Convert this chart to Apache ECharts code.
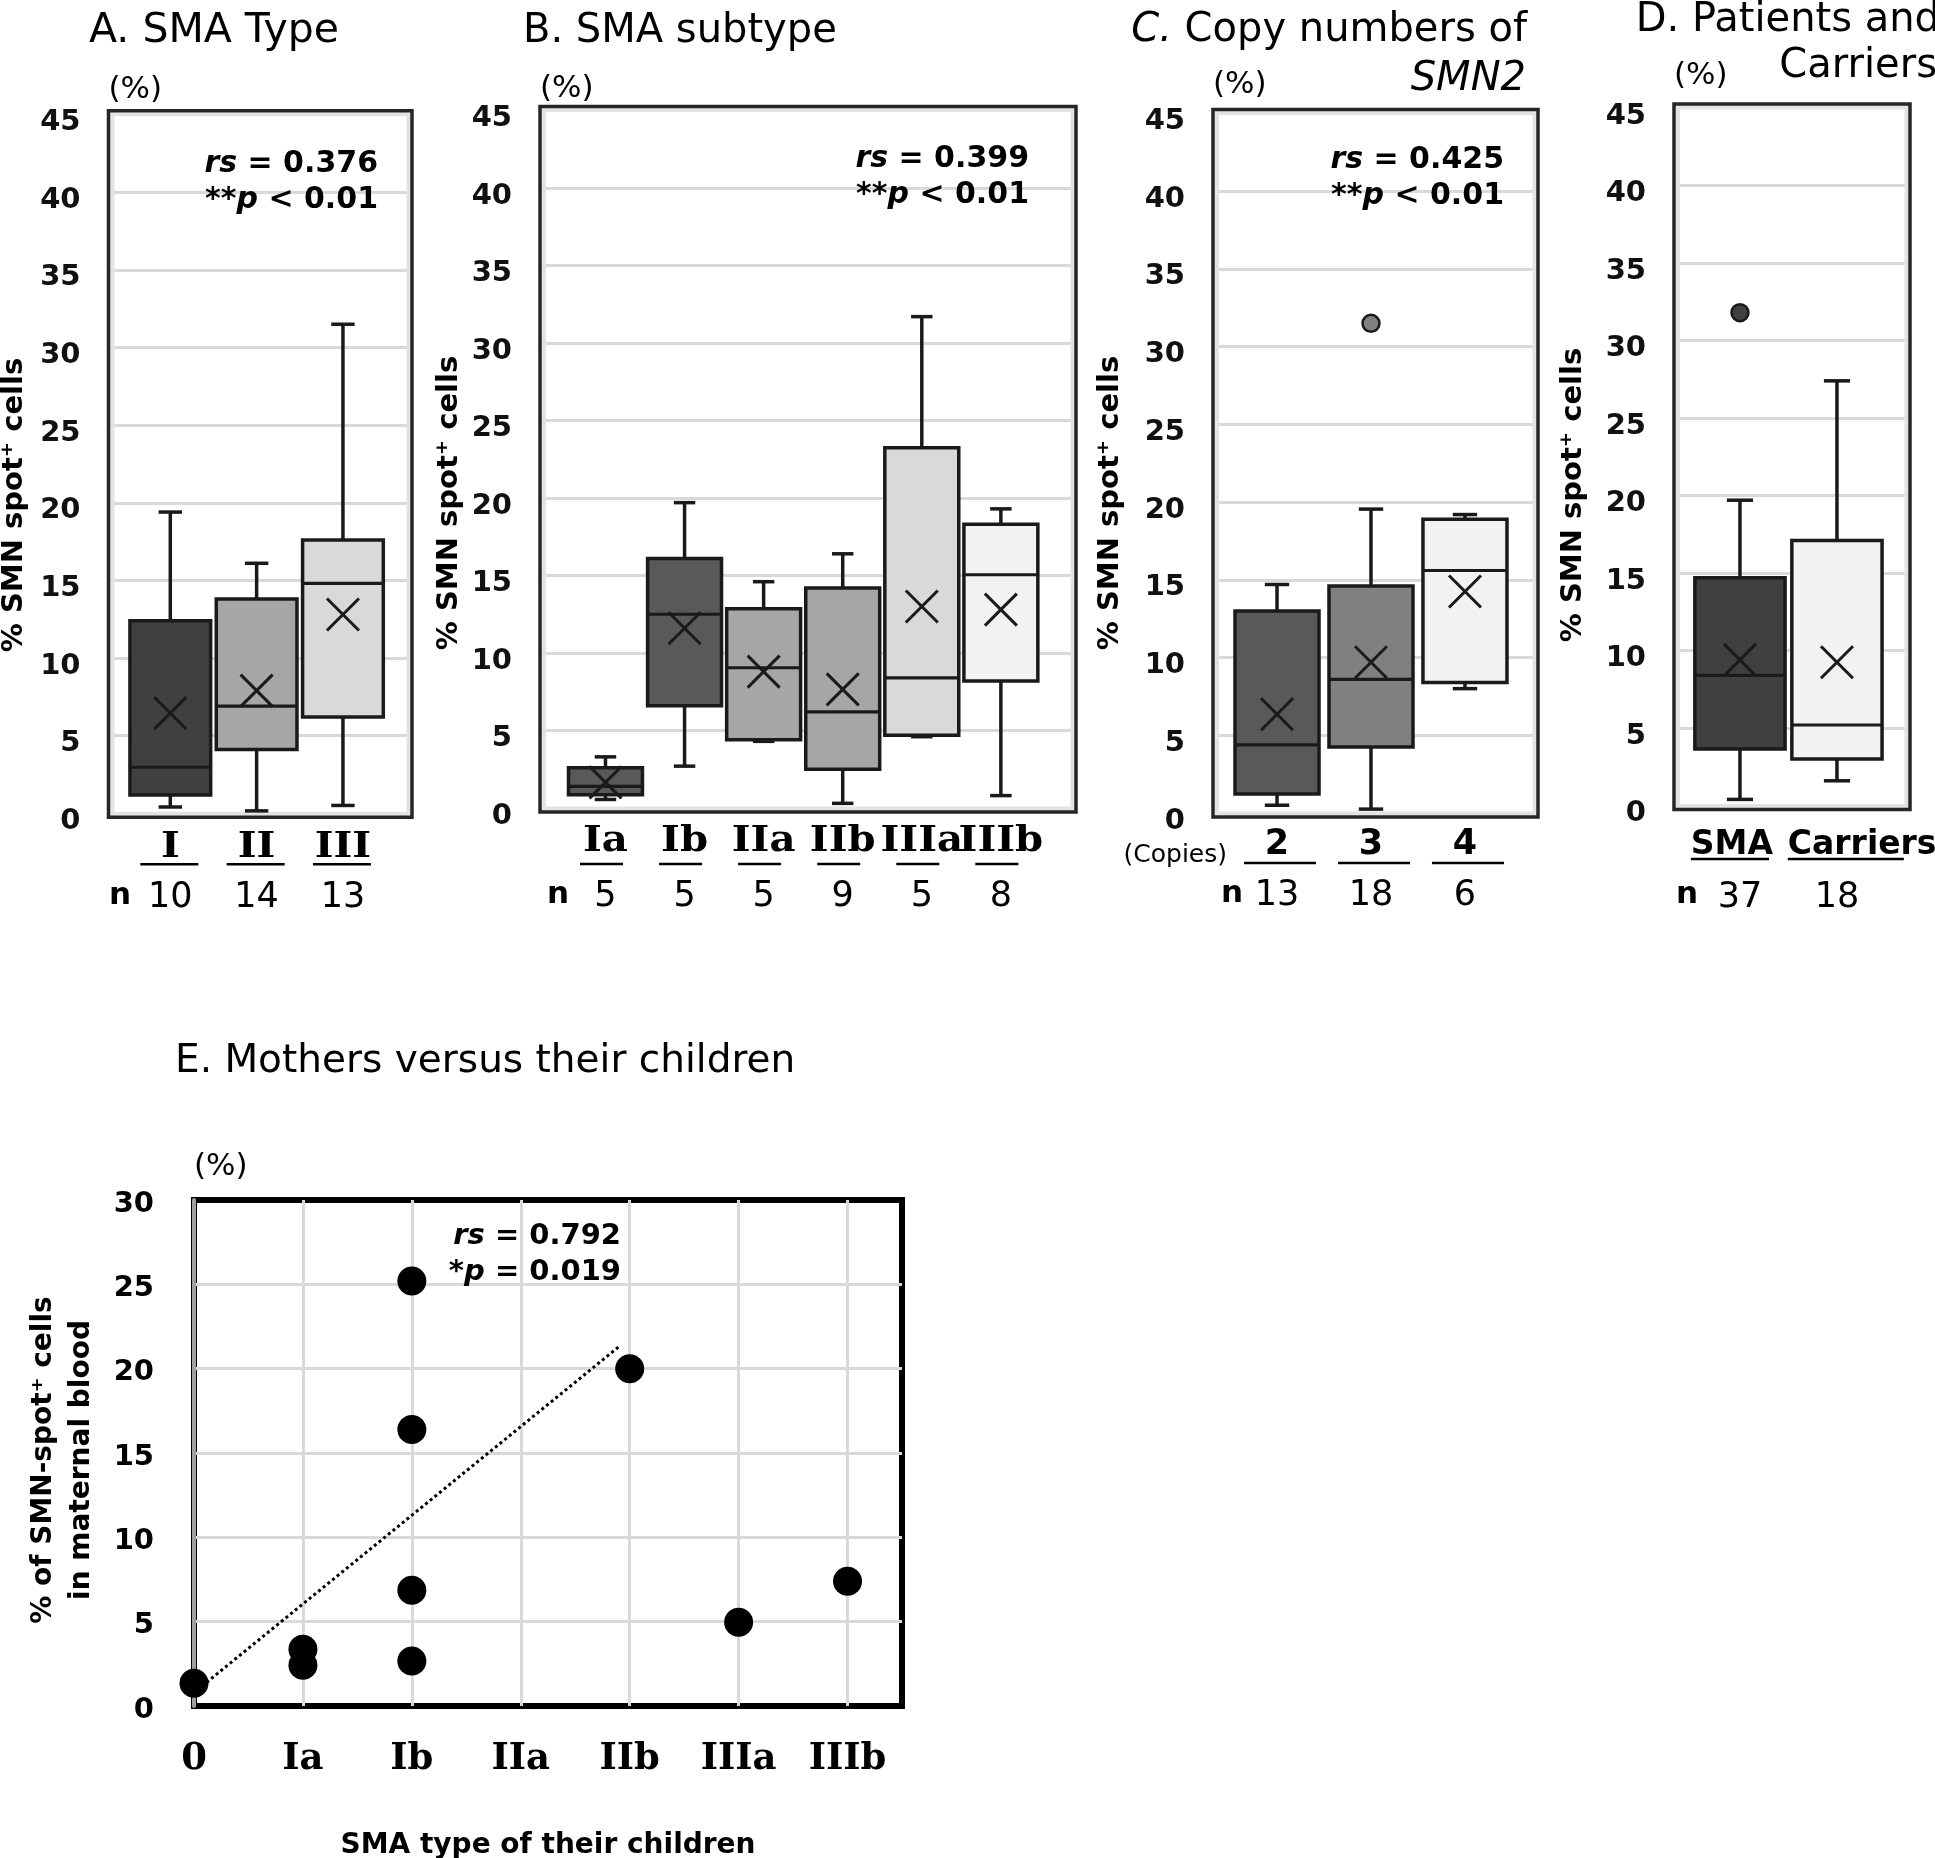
<!DOCTYPE html>
<html><head><meta charset="utf-8">
<script src="https://cdn.jsdelivr.net/npm/echarts@6/dist/echarts.min.js"></script>
<style>html,body{margin:0;padding:0;background:#fff}#c{width:1935px;height:1858px}</style>
</head><body><div id="c"></div>
<script>
// ---------------- data ----------------
const catA = ['I', 'II', 'III'];
const nA = [10, 14, 13];
const minA = [0.4, 0.15, 0.5];
const q1A = [1.17, 4.1, 6.2];
const medA = [2.96, 6.9, 14.8];
const q3A = [12.4, 13.8, 17.6];
const maxA = [19.4, 16.1, 31.5];
const meanA = [6.45, 7.9, 12.8];

const catB = ['Ia', 'Ib', 'IIa', 'IIb', 'IIIa', 'IIIb'];
const nB = [5, 5, 5, 9, 5, 8];
const minB = [0.55, 2.7, 4.3, 0.3, 4.6, 0.8];
const q1B = [0.85, 6.6, 4.4, 2.5, 4.7, 8.2];
const medB = [1.4, 12.5, 9.05, 6.2, 8.4, 15.05];
const q3B = [2.6, 16.1, 12.85, 14.2, 23.25, 18.3];
const maxB = [3.3, 19.7, 14.6, 16.4, 31.7, 19.3];
const meanB = [1.65, 11.6, 8.8, 7.65, 13.0, 12.8];

const catC = ['2', '3', '4'];
const nC = [13, 18, 6];
const minC = [0.5, 0.25, 8.0];
const q1C = [1.22, 4.25, 8.4];
const medC = [4.38, 8.6, 15.6];
const q3C = [13.0, 14.6, 18.9];
const maxC = [14.7, 19.55, 19.2];
const meanC = [6.35, 9.7, 14.25];
const outlierC = [[2, 31.5]];

const catD = ['SMA', 'Carriers'];
const nD = [37, 18];
const minD = [0.4, 1.6];
const q1D = [3.65, 3.0];
const medD = [8.4, 5.2];
const q3D = [14.7, 17.1];
const maxD = [19.7, 27.4];
const meanD = [9.4, 9.25];
const outlierD = [[1, 31.8]];

const catE = ['0', 'Ia', 'Ib', 'IIa', 'IIb', 'IIIa', 'IIIb'];
const mothersX = [0, 1, 1, 2, 2, 2, 2, 4, 5, 6];
const mothersY = [1.35, 3.36, 2.42, 25.2, 16.4, 6.86, 2.67, 20.0, 4.97, 7.4];
const trendX = [0.03, 3.9];
const trendY = [0.95, 21.3];

// ---------------- styles / layout ----------------
const colorsA = ['#404040', '#a6a6a6', '#d9d9d9'];
const colorsB = ['#595959', '#595959', '#a6a6a6', '#a6a6a6', '#d9d9d9', '#f2f2f2'];
const colorsC = ['#595959', '#808080', '#f2f2f2'];
const colorsD = ['#404040', '#f2f2f2'];
const INK = '#1a1a1a';
const SANS = '"DejaVu Sans"';

const mctx = document.createElement('canvas').getContext('2d');
function textW(t, font) { mctx.font = font; return mctx.measureText(t).width; }

function boxData(mn, q1, md, q3, mx, mean) {
  return mn.map((v, i) => [i + 1, mn[i], q1[i], md[i], q3[i], mx[i], mean[i]]);
}

const SERIF_LAB = 'bold 35px "DejaVu Serif"';
const panels = [
  { cats: catA, ns: nA, data: boxData(minA, q1A, medA, q3A, maxA, meanA), colors: colorsA,
    grid: { left: 108.5, top: 114.7, width: 303.5, height: 698.5 }, xMin: 0.284, xMax: 3.80, wFrac: 0.935,
    nameGap: 25,
    lab: { dy: 35, ulDy: 51, nDy: 85, ulW: 58, ulDx: -1, font: SERIF_LAB, sx: 1.15, left: false } },
  { cats: catB, ns: nB, data: boxData(minB, q1B, medB, q3B, maxB, meanB), colors: colorsB,
    grid: { left: 540, top: 110.5, width: 536, height: 697.5 }, xMin: 0.172, xMax: 6.95, wFrac: 0.935,
    nameGap: 22,
    lab: { dy: 33.5, ulDy: 56, nDy: 89, ulW: 43, ulDx: -4, font: SERIF_LAB, sx: 1.15, left: false } },
  { cats: catC, ns: nC, data: boxData(minC, q1C, medC, q3C, maxC, meanC), colors: colorsC,
    grid: { left: 1213, top: 113.5, width: 325, height: 699.5 }, xMin: 0.319, xMax: 3.777, wFrac: 0.894,
    nameGap: 29, outliers: outlierC, outColor: '#808080',
    lab: { dy: 32, ulDy: 50, nDy: 83, ulW: 72, ulDx: 3, font: 'bold 35px ' + SANS, sx: 1, left: false } },
  { cats: catD, ns: nD, data: boxData(minD, q1D, medD, q3D, maxD, meanD), colors: colorsD,
    grid: { left: 1674, top: 108, width: 236, height: 697.6 }, xMin: 0.32, xMax: 2.753, wFrac: 0.93,
    nameGap: 32, outliers: outlierD, outColor: '#404040',
    lab: { dy: 39.5, ulDy: 53.5, nDy: 92.5, ulW: 0, ulDx: 0, font: 'bold 33px ' + SANS, sx: 1, left: true } }
];

function ln(x1, y1, x2, y2, w) {
  return { type: 'line', shape: { x1, y1, x2, y2 }, style: { stroke: INK, lineWidth: w } };
}

function makeBoxRender(colors, wFrac) {
  return function (params, api) {
    const i = params.dataIndex;
    const x = api.value(0);
    const pMin = api.coord([x, api.value(1)]);
    const pQ1 = api.coord([x, api.value(2)]);
    const pMed = api.coord([x, api.value(3)]);
    const pQ3 = api.coord([x, api.value(4)]);
    const pMax = api.coord([x, api.value(5)]);
    const pMean = api.coord([x, api.value(6)]);
    const cx = pMin[0];
    const bw = api.size([wFrac, 0])[0];
    const cw = bw * 0.29;
    const m = 16;
    return {
      type: 'group',
      children: [
        ln(cx, pMax[1], cx, pQ3[1], 3.5),
        ln(cx - cw / 2, pMax[1], cx + cw / 2, pMax[1], 3.5),
        ln(cx, pMin[1], cx, pQ1[1], 3.5),
        ln(cx - cw / 2, pMin[1], cx + cw / 2, pMin[1], 3.5),
        { type: 'rect', shape: { x: cx - bw / 2, y: pQ3[1], width: bw, height: pQ1[1] - pQ3[1] },
          style: { fill: colors[i], stroke: INK, lineWidth: 3.5 } },
        ln(cx - bw / 2, pMed[1], cx + bw / 2, pMed[1], 3.2),
        ln(cx - m, pMean[1] - m, cx + m, pMean[1] + m, 3),
        ln(cx - m, pMean[1] + m, cx + m, pMean[1] - m, 3)
      ]
    };
  };
}

function frameRender(params, api) {
  const cs = params.coordSys;
  const top = cs.y - 4, bot = cs.y + cs.height + 4;
  return {
    type: 'group',
    children: [
      { type: 'rect', shape: { x: cs.x + 4, y: top + 3.5, width: cs.width - 7.5, height: bot - top - 7 },
        style: { fill: 'none', stroke: '#e3e3e3', lineWidth: 4 } },
      { type: 'rect', shape: { x: cs.x, y: top, width: cs.width, height: bot - top },
        style: { fill: 'none', stroke: '#262626', lineWidth: 3.5 } }
    ]
  };
}

function makeLabelRender(cats, ns, lab, wFrac) {
  return function (params, api) {
    const i = params.dataIndex;
    const p = api.coord([api.value(0), 0]);
    const cx = p[0], y0 = p[1];
    const bw = api.size([wFrac, 0])[0];
    const children = [];
    let lx = cx, align = 'center', ulX, ulW;
    if (lab.left) {
      lx = cx - bw / 2 - 4; align = 'left';
      ulX = lx; ulW = Math.min(textW(cats[i], lab.font) - 4, 116);
    } else {
      ulW = lab.ulW; ulX = cx - ulW / 2 + lab.ulDx;
    }
    children.push({ type: 'text', x: lx, y: y0 + lab.dy, scaleX: lab.sx, scaleY: 1,
      style: { text: cats[i], x: 0, y: 0, font: lab.font, fill: '#000',
      textAlign: align, align: align, textVerticalAlign: 'middle', verticalAlign: 'middle' } });
    children.push({ type: 'rect', shape: { x: ulX, y: y0 + lab.ulDy - 1.25, width: ulW, height: 2.5 }, style: { fill: '#000' } });
    children.push({ type: 'text', style: { text: String(ns[i]), x: cx, y: y0 + lab.nDy, font: '35px ' + SANS, fill: '#000',
      textAlign: 'center', align: 'center', textVerticalAlign: 'middle', verticalAlign: 'middle' } });
    return { type: 'group', children };
  };
}

const grids = [], xAxes = [], yAxes = [], series = [];
panels.forEach((P, k) => {
  grids.push(Object.assign({ show: false, containLabel: false, outerBoundsMode: 'none' }, P.grid));
  xAxes.push({ gridIndex: k, type: 'value', min: P.xMin, max: P.xMax,
    axisLine: { show: false }, axisTick: { show: false }, axisLabel: { show: false }, splitLine: { show: false } });
  yAxes.push({ gridIndex: k, type: 'value', min: 0, max: 45, interval: 5,
    axisLine: { show: false }, axisTick: { show: false },
    axisLabel: { fontFamily: 'DejaVu Sans', fontWeight: 'bold', fontSize: 29, color: '#111', margin: 28,
      verticalAlign: 'top', lineHeight: 16 },
    splitLine: { show: true, showMinLine: false, showMaxLine: false, lineStyle: { color: '#d9d9d9', width: 3 } },
    name: '(%)', nameLocation: 'end', nameGap: P.nameGap,
    nameTextStyle: { fontFamily: 'DejaVu Sans', fontSize: 31, color: '#000', align: 'left', verticalAlign: 'middle' } });
  series.push({ type: 'custom', xAxisIndex: k, yAxisIndex: k, data: [[P.xMin, 0]], encode: { x: 0, y: 1 },
    renderItem: frameRender, z: 2, silent: true });
  series.push({ type: 'custom', xAxisIndex: k, yAxisIndex: k, data: P.data,
    encode: { x: 0, y: [1, 2, 3, 4, 5, 6] }, renderItem: makeBoxRender(P.colors, P.wFrac), z: 3 });
  series.push({ type: 'custom', xAxisIndex: k, yAxisIndex: k, clip: false,
    data: P.cats.map((c, i) => [i + 1, 0]), encode: { x: 0, y: 1 },
    renderItem: makeLabelRender(P.cats, P.ns, P.lab, P.wFrac), z: 3 });
  if (P.outliers) {
    series.push({ type: 'scatter', xAxisIndex: k, yAxisIndex: k, data: P.outliers, symbolSize: 17, z: 4,
      itemStyle: { color: P.outColor, borderColor: INK, borderWidth: 2.5, opacity: 1 } });
  }
});

// Panel E
const kE = panels.length;
grids.push({ show: true, left: 194, top: 1200, width: 708, height: 506, containLabel: false, outerBoundsMode: 'none',
  borderColor: '#000', borderWidth: 6, backgroundColor: '#fff' });
xAxes.push({ gridIndex: kE, type: 'value', min: 0, max: 6.5, interval: 1,
  axisLine: { show: false }, axisTick: { show: false },
  axisLabel: { formatter: v => (Number.isInteger(v) && catE[v] !== undefined) ? catE[v] : '',
    fontFamily: 'DejaVu Serif', fontWeight: 'bold', fontSize: 37, color: '#000', margin: 35 },
  splitLine: { show: true, showMinLine: false, showMaxLine: false, lineStyle: { color: '#d9d9d9', width: 3 } },
  name: 'SMA type of their children', nameLocation: 'middle', nameGap: 126,
  nameTextStyle: { fontFamily: 'DejaVu Sans', fontWeight: 'bold', fontSize: 28, color: '#000' } });
yAxes.push({ gridIndex: kE, type: 'value', min: 0, max: 30, interval: 5,
  axisLine: { show: true, lineStyle: { color: '#a0a0a0', width: 4 } }, axisTick: { show: false },
  axisLabel: { fontFamily: 'DejaVu Sans', fontWeight: 'bold', fontSize: 29, color: '#000', margin: 40,
    verticalAlign: 'top', lineHeight: 8 },
  splitLine: { show: true, showMinLine: false, showMaxLine: false, lineStyle: { color: '#d9d9d9', width: 3 } },
  name: '(%)', nameLocation: 'end', nameGap: 33,
  nameTextStyle: { fontFamily: 'DejaVu Sans', fontSize: 31, color: '#000', align: 'left', verticalAlign: 'middle' } });
series.push({ type: 'line', xAxisIndex: kE, yAxisIndex: kE, data: trendX.map((x, i) => [x, trendY[i]]),
  symbol: 'none', lineStyle: { color: '#000', width: 3, type: [3, 3] }, z: 3 });
series.push({ type: 'scatter', xAxisIndex: kE, yAxisIndex: kE, data: mothersX.map((x, i) => [x, mothersY[i]]),
  symbolSize: 29, itemStyle: { color: '#000', opacity: 1 }, z: 4 });

// ---------------- graphic texts ----------------
function T(x, y, text, font, align, extra) {
  return Object.assign({ type: 'text', x, y, z: 10, style: { text, font, fill: '#000',
    textAlign: align, align: align, textVerticalAlign: 'middle', verticalAlign: 'middle' } }, extra || {});
}
function R(x, y, text, font) {
  return T(x, y, text, font, 'center', { rotation: Math.PI / 2 });
}
function stat(x, y, l1, l2, fs) {
  return { type: 'text', x, y, z: 10, style: {
    text: l1 + '\n' + l2, font: 'bold ' + fs + 'px ' + SANS, fill: '#000', lineHeight: 36,
    textAlign: 'right', align: 'right', textVerticalAlign: 'middle', verticalAlign: 'middle',
    rich: { i: { fontStyle: 'italic', fontWeight: 'bold', fontSize: fs, fontFamily: 'DejaVu Sans', lineHeight: 36 } } } };
}
const TF = '40px ' + SANS;
const YT = 'bold 29px ' + SANS;
const graphics = [
  T(89, 31, 'A. SMA Type', '41px ' + SANS, 'left'),
  T(523, 32, 'B. SMA subtype', TF, 'left'),
  { type: 'text', x: 1527, y: 31, z: 10, style: { text: '{i|C.} Copy numbers of', font: TF, fill: '#000',
      textAlign: 'right', align: 'right', textVerticalAlign: 'middle', verticalAlign: 'middle',
      rich: { i: { fontStyle: 'italic', fontSize: 40, fontFamily: 'DejaVu Sans' } } } },
  T(1526, 80, 'SMN2', 'italic ' + TF, 'right'),
  T(1940, 21, 'D. Patients and', TF, 'right'),
  T(1937, 67, 'Carriers', TF, 'right'),
  T(175, 1062, 'E. Mothers versus their children', '39px ' + SANS, 'left'),
  R(14, 505, '% SMN spot\u207A cells', YT),
  R(449, 503, '% SMN spot\u207A cells', YT),
  R(1110, 503, '% SMN spot\u207A cells', YT),
  R(1573, 495, '% SMN spot\u207A cells', YT),
  R(44, 1460, '% of SMN-spot\u207A cells', 'bold 28px ' + SANS),
  R(82, 1460, 'in maternal blood', 'bold 28px ' + SANS),
  stat(378, 182, '{i|rs} = 0.376', '**{i|p} < 0.01', 30),
  stat(1029, 177, '{i|rs} = 0.399', '**{i|p} < 0.01', 30),
  stat(1504, 178, '{i|rs} = 0.425', '**{i|p} < 0.01', 30),
  stat(621, 1254, '{i|rs} = 0.792', '*{i|p} = 0.019', 29),
  T(120, 896, 'n', 'bold 31px ' + SANS, 'center'),
  T(558, 895, 'n', 'bold 31px ' + SANS, 'center'),
  T(1232, 894, 'n', 'bold 31px ' + SANS, 'center'),
  T(1687, 895, 'n', 'bold 31px ' + SANS, 'center'),
  T(1227, 855, '(Copies)', '25px ' + SANS, 'right')
];

const chart = echarts.init(document.getElementById('c'), null, { renderer: 'canvas' });
chart.setOption({
  animation: false,
  backgroundColor: '#fff',
  grid: grids, xAxis: xAxes, yAxis: yAxes, series: series,
  graphic: graphics
});
</script>
</body></html>
